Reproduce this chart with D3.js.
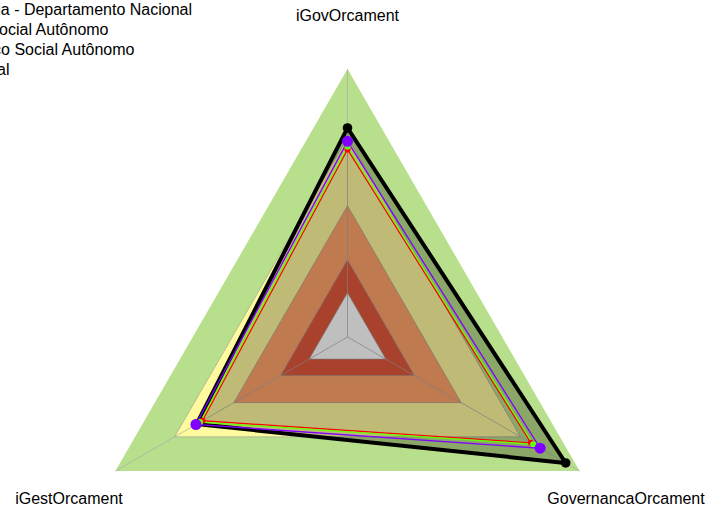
<!DOCTYPE html>
<html lang="pt">
<head>
    <meta charset="UTF-8">
    <title>Radar iGG Orcamento</title>
    <script src="https://d3js.org/d3.v7.min.js"></script>
    <style>
        body { margin: 0; background: #fff; }
        text { font-family: "Liberation Sans", Arial, sans-serif; font-size: 16px; fill: #000; }
    </style>
</head>
<body>
    <div id="chart"></div>
    <script>
        // axes, in the order they go round the chart (top, bottom-left, bottom-right)
        const axes = ['iGovOrcament', 'iGestOrcament', 'GovernancaOrcament'];

        // series values (share of full scale)
        const blackValues  = [0.78, 0.65, 0.94];
        const purpleValues = [0.73, 0.653, 0.83];
        const greenValues  = [0.71, 0.635, 0.80];
        const redValues    = [0.70, 0.625, 0.79];

        // background bands (outer edge of each level)
        const bandLevels = [1.0, 0.745, 0.49, 0.288, 0.165];
        const bandColors = ['#b8df8b', '#fffa9e', '#ffa36b', '#e1593d', '#ffffff'];

        const legendLabels = [
            'Serviço Social da Indústria - Departamento Nacional',
            'Serviço Social Autônomo',
            'Média Serviço Social Autônomo',
            'Média Geral'
        ];

        const width = 708, height = 511;
        const cx = 347.5, cy = 337, R = 268;

        const svg = d3.select('#chart').append('svg')
            .attr('width', width)
            .attr('height', height);

        const r = d3.scaleLinear().domain([0, 1]).range([0, R]);
        const angle = d3.scalePoint().domain(axes).range([0, 2 * Math.PI * 2 / 3]);

        // point on axis i at value v (counterclockwise from the top)
        function pt(i, v) {
            const a = -Math.PI / 2 - angle(axes[i]);
            return [cx + r(v) * Math.cos(a), cy + r(v) * Math.sin(a)];
        }

        const line = d3.line().curve(d3.curveLinearClosed);

        // bands
        svg.selectAll('.band')
            .data(bandLevels)
            .enter().append('path')
            .attr('class', 'band')
            .attr('d', lv => line(axes.map((_, i) => pt(i, lv))))
            .attr('fill', (lv, i) => bandColors[i])
            .attr('stroke', (lv, i) => i === 0 ? 'none' : '#9a9a9a')
            .attr('stroke-opacity', 0.6)
            .attr('stroke-width', 1);

        // axis lines
        svg.selectAll('.axis')
            .data(axes)
            .enter().append('line')
            .attr('class', 'axis')
            .attr('x1', cx).attr('y1', cy)
            .attr('x2', (d, i) => pt(i, 1)[0])
            .attr('y2', (d, i) => pt(i, 1)[1])
            .attr('stroke', '#aaaaaa')
            .attr('stroke-opacity', 0.7)
            .attr('stroke-width', 1);

        const series = [
            { values: blackValues,  color: '#000000', width: 4,   dot: 4.8, fill: 'rgba(0,0,0,0.25)' },
            { values: redValues,    color: '#ff0000', width: 1.3, dot: 3,   fill: 'none' },
            { values: greenValues,  color: '#66ff00', width: 1.3, dot: 3,   fill: 'none' },
            { values: purpleValues, color: '#7f00ff', width: 1.3, dot: 5.5, fill: 'none' }
        ];

        // polygons
        svg.selectAll('.series')
            .data(series)
            .enter().append('path')
            .attr('class', 'series')
            .attr('d', s => line(s.values.map((v, i) => pt(i, v))))
            .attr('fill', s => s.fill)
            .attr('stroke', s => s.color)
            .attr('stroke-width', s => s.width)
            .attr('stroke-linejoin', 'miter');

        // points
        series.forEach(s => {
            svg.append('g').selectAll('circle')
                .data(s.values)
                .enter().append('circle')
                .attr('cx', (v, i) => pt(i, v)[0])
                .attr('cy', (v, i) => pt(i, v)[1])
                .attr('r', s.dot)
                .attr('fill', s.color);
        });

        // axis labels
        svg.selectAll('.vlabel')
            .data(axes)
            .enter().append('text')
            .attr('class', 'vlabel')
            .attr('x', (d, i) => pt(i, 1.2)[0])
            .attr('y', (d, i) => pt(i, 1.2)[1])
            .attr('dy', '0.36em')
            .attr('text-anchor', 'middle')
            .text(d => d);

        // legend (runs off the left edge, right ends as in the picture)
        const legendRight = [192, 108.5, 134.5, 9.5];
        svg.selectAll('.legend')
            .data(legendLabels)
            .enter().append('text')
            .attr('class', 'legend')
            .attr('x', (d, i) => legendRight[i])
            .attr('y', (d, i) => 14.5 + i * 20.2)
            .attr('text-anchor', 'end')
            .text(d => d);
    </script>
</body>
</html>
